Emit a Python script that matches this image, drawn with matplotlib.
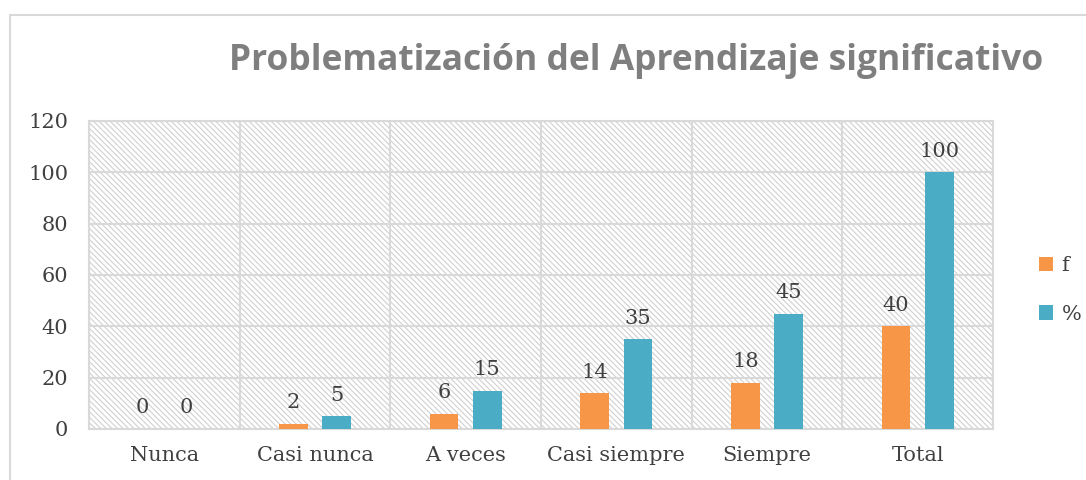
import numpy as np
import matplotlib.pyplot as plt
from matplotlib.patches import Rectangle

categories = ['Nunca', 'Casi nunca', 'A veces', 'Casi siempre', 'Siempre', 'Total']
f_values = [0, 2, 6, 14, 18, 40]
pct_values = [0, 5, 15, 35, 45, 100]
series_names = ['f', '%']

ORANGE = '#f79646'
BLUE = '#4bacc6'
GRID = '#d9d9d9'
TEXT = '#404040'

plt.rcParams['hatch.color'] = '#d0d0d0'
plt.rcParams['hatch.linewidth'] = 0.8

fig = plt.figure(figsize=(10.86, 4.8), dpi=100)
# outer chart frame
fig.patches.append(Rectangle((10 / 1086, -0.1), 1.2, 0.1 + (480 - 15) / 480, transform=fig.transFigure,
                             fill=False, edgecolor=GRID, linewidth=1.5))

ax = fig.add_axes([89 / 1086, (480 - 429) / 480, (993 - 89) / 1086, (429 - 121) / 480])
ax.set_xlim(0, len(categories))
ax.set_ylim(0, 120)

# hatched background
ax.add_patch(Rectangle((0, 0), len(categories), 120, facecolor='white', hatch='\\\\\\\\\\\\',
                       edgecolor='#d0d0d0', linewidth=0, zorder=0))

x = np.arange(len(categories)) + 0.5
w = 0.19
off = 0.143
b1 = ax.bar(x - off, f_values, w, color=ORANGE, label=series_names[0], zorder=3)
b2 = ax.bar(x + off, pct_values, w, color=BLUE, label=series_names[1], zorder=3)

font = 'DejaVu Serif'
fs = 15
for bars in (b1, b2):
    for r, v in zip(bars, bars.datavalues):
        ax.text(r.get_x() + r.get_width() / 2, v + 4.5, '%d' % v, ha='center', va='bottom',
                fontsize=fs, color=TEXT, family=font, zorder=4)

ax.set_yticks(range(0, 121, 20))
ax.set_xticks(np.arange(len(categories) + 1), minor=False)
ax.set_xticklabels([])
ax.set_xticks(x, minor=True)
ax.set_xticklabels(categories, minor=True)
ax.grid(True, color=GRID, linewidth=1.5, zorder=1)
ax.tick_params(axis='both', which='both', length=0, labelsize=fs, colors=TEXT)
ax.tick_params(axis='x', which='minor', pad=12)
ax.tick_params(axis='y', pad=15)
for lab in ax.get_yticklabels() + ax.get_xticklabels(minor=True):
    lab.set_family(font)
for s in ax.spines.values():
    s.set_color(GRID)
    s.set_linewidth(1.5)

fig.text(636 / 1086, 1 - 61 / 480, 'Problematización del Aprendizaje significativo',
         ha='center', va='center', fontsize=25.5, fontweight='bold', color='#7f7f7f', family='Open Sans')

leg = fig.legend(handles=[b1, b2], loc='center left', bbox_to_anchor=(1020 / 1086, 1 - 290 / 480),
                 frameon=False, prop={'family': font, 'size': fs}, handlelength=0.7, handleheight=0.7,
                 labelspacing=1.4, handletextpad=0.4)
for t in leg.get_texts():
    t.set_color(TEXT)

fig.savefig('out.png', dpi=100)
